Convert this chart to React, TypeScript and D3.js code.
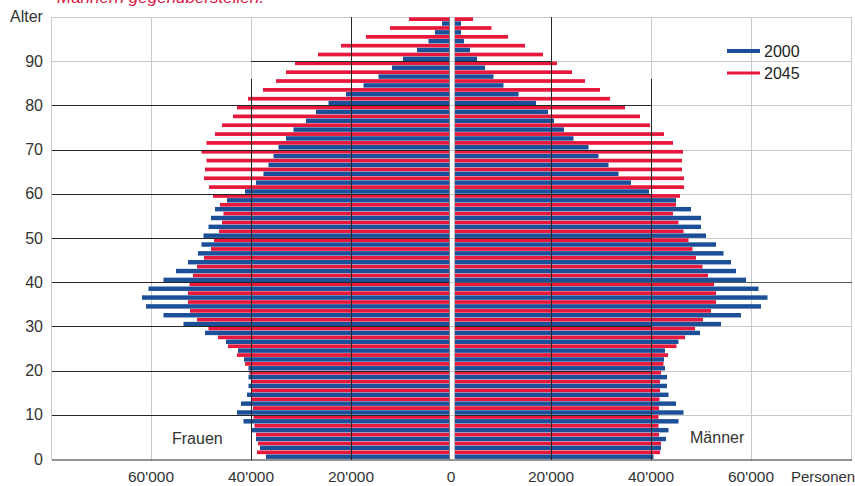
import React from "react";
import * as d3 from "d3";

// Age groups (start age of each 2-year group)
const ageGroups = [0,2,4,6,8,10,12,14,16,18,20,22,24,26,28,30,32,34,36,38,40,42,44,46,48,50,52,54,56,58,60,62,64,66,68,70,72,74,76,78,80,82,84,86,88,90,92,94,96,98];

// Frauen (women), thousands of persons
const frauen2000 = [37.0,38.2,39.0,40.0,41.5,42.8,42.0,40.8,40.5,40.5,40.5,41.4,42.6,45.0,49.2,53.5,57.5,61.0,61.8,60.5,57.5,55.0,52.6,50.6,49.9,49.5,48.5,48.0,47.2,44.8,41.2,39.0,37.5,36.5,35.5,34.5,33.0,31.5,29.0,27.0,24.5,21.0,17.5,14.5,11.8,9.6,6.8,4.5,3.2,1.8];
const frauen2045 = [38.8,38.6,39.0,39.3,39.5,39.6,39.8,39.8,40.0,40.3,41.2,42.8,44.6,46.6,48.5,50.8,52.2,52.6,52.6,52.3,51.6,50.8,49.4,48.0,47.4,46.4,45.8,45.5,46.2,47.6,48.4,49.4,49.2,48.9,49.9,48.9,47.2,45.8,43.6,42.8,40.6,37.6,35.0,33.0,31.2,26.6,22.0,17.0,12.2,8.4];

// Männer (men), thousands of persons
const maenner2000 = [40.5,42.0,43.0,43.5,45.5,46.5,45.0,43.5,43.2,43.2,42.8,42.6,42.8,45.5,49.8,54.0,58.0,62.0,63.3,61.5,59.0,57.0,56.0,54.5,53.0,51.0,50.0,50.0,48.0,45.0,39.6,36.0,33.5,31.5,29.5,27.5,24.5,22.6,20.6,19.4,17.0,13.5,10.5,8.5,6.8,5.2,3.8,2.6,2.0,2.0];
const maenner2045 = [41.8,42.0,41.6,41.5,41.5,41.6,41.7,41.8,41.8,42.0,42.5,43.4,45.1,46.8,48.8,50.4,52.0,53.0,53.0,52.6,51.4,50.3,49.0,48.3,47.5,46.5,45.5,44.4,45.0,45.8,46.6,46.6,46.2,46.2,46.4,44.4,42.6,39.8,37.8,34.8,31.8,29.8,26.8,24.2,21.2,18.4,14.8,11.4,8.1,4.4];

const xTickValues = [-60000,-40000,-20000,0,20000,40000,60000];
const xTickLabels = ["60'000","40'000","20'000","0","20'000","40'000","60'000"];
const yTickValues = [0,10,20,30,40,50,60,70,80,90];
const legendItems = [
  { label: "2000", color: "#1b4f97", width: 4 },
  { label: "2045", color: "#e8173c", width: 3 },
];

const W = 855, H = 486;
const BLUE = "#1b4f97";
const RED = "#e8173c";
const GRID = "#c9c9c9";
const DARK = "#262626";
const FONT = "'Liberation Sans', Arial, sans-serif";

export default function App() {
  const x = d3.scaleLinear().domain([-80000, 80000]).range([51, 851]);
  const y = d3.scaleLinear().domain([0, 100]).range([459, 17]);
  const left0 = x(0) - 2;
  const right0 = x(0) + 4;
  const plotL = x(-80000) + 1, plotR = x(80000) + 1, plotT = y(100), plotB = y(0) + 1;

  const rows = ageGroups.map((a, i) => {
    const top = y(a + 2);
    const bottom = y(a);
    return {
      a,
      redY: top + 0.3,
      redH: 3.7,
      blueY: top + 4.3,
      blueH: bottom - top - 4.4,
      f00: frauen2000[i] * 1000,
      f45: frauen2045[i] * 1000,
      m00: maenner2000[i] * 1000,
      m45: maenner2045[i] * 1000,
    };
  });

  const lb = (v: number) => Math.min(x(-v), left0);
  const rb = (v: number) => Math.max(x(v), right0);

  return (
    <div style={{ position: "absolute", left: 0, top: 0 }}>
      <svg width={W} height={H} style={{ display: "block", background: "#fff", fontFamily: FONT }}>
        {/* clipped subtitle */}
        <text x={57} y={3} fill="#d6163f" fontStyle="italic" fontSize={17}>Männern gegenüberstellen.</text>

        {/* light grid */}
        <g stroke={GRID} strokeWidth={1}>
          {[-80000, -60000, -40000, -20000, 20000, 40000, 60000, 80000].map((v) => (
            <line key={"v" + v} x1={x(v) + 0.5} x2={x(v) + 0.5} y1={plotT} y2={plotB} />
          ))}
          {[10, 20, 30, 40, 50, 60, 70, 80, 90, 100].map((a) => (
            <line key={"h" + a} x1={plotL} x2={plotR} y1={Math.round(y(a)) + 0.5} y2={Math.round(y(a)) + 0.5} />
          ))}
        </g>

        {/* bars */}
        <g>
          {rows.map((r) => (
            <g key={r.a}>
              <rect x={lb(r.f45)} y={r.redY} width={left0 - lb(r.f45)} height={r.redH} fill={RED} />
              <rect x={right0} y={r.redY} width={rb(r.m45) - right0} height={r.redH} fill={RED} />
              <rect x={lb(r.f00)} y={r.blueY} width={left0 - lb(r.f00)} height={r.blueH} fill={BLUE} />
              <rect x={right0} y={r.blueY} width={rb(r.m00) - right0} height={r.blueH} fill={BLUE} />
            </g>
          ))}
        </g>

        {/* dark grid segments over bars */}
        <g stroke={DARK} strokeWidth={1}>
          <line x1={x(-20000) + 0.5} x2={x(-20000) + 0.5} y1={plotT} y2={plotB} />
          <line x1={x(20000) + 0.5} x2={x(20000) + 0.5} y1={plotT} y2={plotB} />
          <line x1={x(-40000) + 0.5} x2={x(-40000) + 0.5} y1={y(86)} y2={plotB} />
          <line x1={x(40000) + 0.5} x2={x(40000) + 0.5} y1={y(86)} y2={plotB} />
          {[10, 20, 30, 40, 50, 60, 70, 80].map((a) => (
            <line key={"dl" + a} x1={plotL} x2={left0} y1={Math.round(y(a)) + 0.5} y2={Math.round(y(a)) + 0.5} />
          ))}
          <line x1={x(-40000)} x2={left0} y1={Math.round(y(90)) + 0.5} y2={Math.round(y(90)) + 0.5} />
          {[10, 20, 30, 50, 60, 70, 80].map((a) => (
            <line key={"dr" + a} x1={right0} x2={x(40000)} y1={Math.round(y(a)) + 0.5} y2={Math.round(y(a)) + 0.5} />
          ))}
          <line x1={right0} x2={x(20000)} y1={Math.round(y(90)) + 0.5} y2={Math.round(y(90)) + 0.5} />
          <line x1={right0} x2={plotR} y1={Math.round(y(40)) + 0.5} y2={Math.round(y(40)) + 0.5} stroke="#555" />
          <line x1={plotL} x2={plotR} y1={plotB} y2={plotB} />
        </g>

        {/* centre separator */}
        <line x1={left0 + 0.5} x2={left0 + 0.5} y1={plotT} y2={plotB} stroke="#777" />
        <line x1={right0 - 0.5} x2={right0 - 0.5} y1={plotT} y2={plotB} stroke="#bbb" />

        {/* axis labels */}
        <g fill="#333" fontSize={16}>
          <text x={10} y={22}>Alter</text>
          {yTickValues.map((a) => (
            <text key={"yt" + a} x={43} y={y(a) + 5.5} textAnchor="end">{a}</text>
          ))}
          {xTickValues.map((v, i) => (
            <text key={"xt" + i} x={x(v)} y={482} textAnchor="middle" fontSize={15.5}>{xTickLabels[i]}</text>
          ))}
          <text x={791} y={482} fontSize={15}>Personen</text>
          <text x={172} y={444}>Frauen</text>
          <text x={690} y={443}>Männer</text>
        </g>

        {/* legend */}
        <g>
          {legendItems.map((it, i) => (
            <g key={it.label} transform={`translate(727, ${51 + i * 22})`}>
              <line x1={0} x2={33} y1={0} y2={0} stroke={it.color} strokeWidth={it.width} />
              <text x={37} y={6} fontSize={16} fill="#222" fontWeight={500}>{it.label}</text>
            </g>
          ))}
        </g>
      </svg>
    </div>
  );
}
